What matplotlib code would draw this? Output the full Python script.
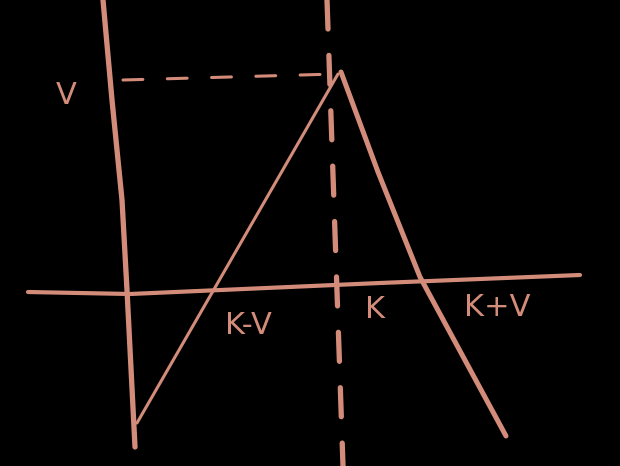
import matplotlib
matplotlib.use("Agg")
import matplotlib.pyplot as plt

# sketch coordinates (pixels, y grows downward)
y_axis_x = [103, 112, 122, 127, 135]
y_axis_y = [0, 100, 200, 290, 447]
x_axis_x = [28, 130, 380, 580]
x_axis_y = [292, 294, 283, 275]
left_x = [137, 338]
left_y = [423, 74]
right_x = [341, 378, 420, 506]
right_y = [72, 172, 277, 436]
vdash_x = [327, 343]
vdash_y = [0, 466]
hdash_x = [123, 336]
hdash_y = [80, 74]

labels = ["V", "K-V", "K", "K+V"]
label_x = [66, 248, 375, 497]
label_y = [96, 326, 310, 307]

ink = "#d48c7a"

fig = plt.figure(figsize=(6.2, 4.66), dpi=100, facecolor="black")
ax = fig.add_axes([0, 0, 1, 1])
ax.set_facecolor("black")
ax.set_xlim(0, 620)
ax.set_ylim(466, 0)
ax.axis("off")

ax.plot(y_axis_x, y_axis_y, color=ink, lw=3.8, solid_capstyle="round",
        solid_joinstyle="round")
ax.plot(x_axis_x, x_axis_y, color=ink, lw=3.0, solid_capstyle="round",
        solid_joinstyle="round")
ax.plot(left_x, left_y, color=ink, lw=2.2, solid_capstyle="round")
ax.plot(right_x, right_y, color=ink, lw=3.6, solid_capstyle="round",
        solid_joinstyle="round")
ax.plot(vdash_x, vdash_y, color=ink, lw=3.8, dashes=(5.5, 5), dash_capstyle="round")
ax.plot(hdash_x, hdash_y, color=ink, lw=2.2, dashes=(6.5, 8), dash_capstyle="round")

for t, x, y in zip(labels, label_x, label_y):
    ax.text(x, y, t, color=ink, fontsize=22, ha="center", va="center",
            family="DejaVu Sans")

fig.savefig("out.png", dpi=100, facecolor="black")
